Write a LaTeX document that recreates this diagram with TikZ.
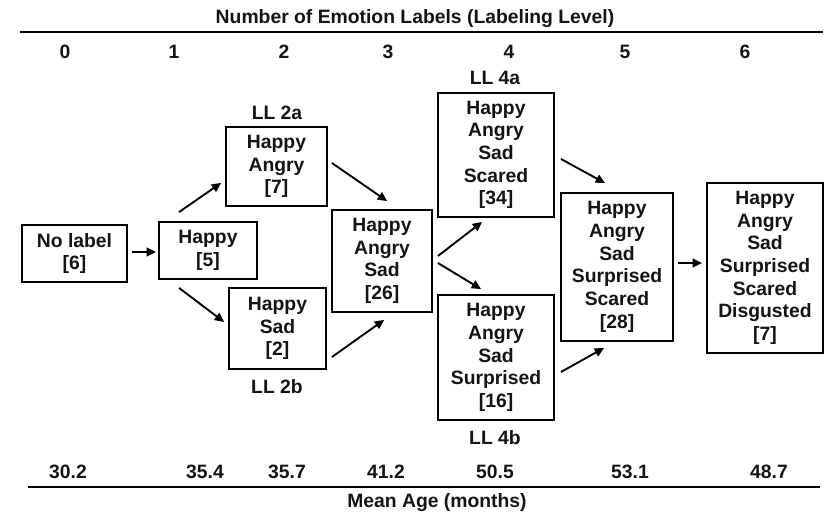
\documentclass[tikz,border=0pt]{standalone}
\usepackage{fontspec}
\setmainfont{Liberation Sans}
\usetikzlibrary{arrows.meta}
\newcommand\mylblfont{\fontsize{14.5pt}{17pt}\selectfont\bfseries}
\begin{document}
\begin{tikzpicture}[x=0.75pt,y=-0.75pt,
  box/.style={draw, line width=1.4pt, inner sep=0pt, align=center, font=\mylblfont, text=black!92},
  lab/.style={font=\mylblfont, inner sep=0pt, text=black!92},
  arr/.style={line width=1.4pt, -{Triangle[length=7pt,width=6.5pt]}},
  rule/.style={line width=1.6pt}]
\useasboundingbox (0,0) rectangle (825,515);
% header
\node[lab] (title) at (415,19) {Number of Emotion Labels (Labeling Level)};
\draw[rule] (20,32) -- (823,32);
\node[lab] (c0) at (65,52) {0};
\node[lab] (c1) at (174,52) {1};
\node[lab] (c2) at (284,52) {2};
\node[lab] (c3) at (388,52) {3};
\node[lab] (c4) at (509,52) {4};
\node[lab] (c5) at (625,52) {5};
\node[lab] (c6) at (745,52) {6};
% boxes
\node[box, minimum width=78.75pt, minimum height=42.75pt] (b0) at (74.5,253.5) {No label\\{}[6]};
\node[box, minimum width=73.5pt, minimum height=42.75pt] (b1) at (208,250.5) {Happy\\{}[5]};
\node[box, minimum width=75.75pt, minimum height=59.25pt] (b2a) at (276.5,166.5) {Happy\\Angry\\{}[7]};
\node[box, minimum width=72.75pt, minimum height=60.75pt] (b2b) at (277.5,328.5) {Happy\\Sad\\{}[2]};
\node[box, minimum width=75pt, minimum height=76.5pt] (b3) at (382,261) {Happy\\Angry\\Sad\\{}[26]};
\node[box, minimum width=87pt, minimum height=93pt] (b4a) at (496,155) {Happy\\Angry\\Sad\\Scared\\{}[34]};
\node[box, minimum width=87pt, minimum height=93.75pt] (b4b) at (496,357.5) {Happy\\Angry\\Sad\\Surprised\\{}[16]};
\node[box, minimum width=84pt, minimum height=111pt] (b5) at (617,267) {Happy\\Angry\\Sad\\Surprised\\Scared\\{}[28]};
\node[box, minimum width=87pt, minimum height=127.5pt] (b6) at (765,268) {Happy\\Angry\\Sad\\Surprised\\Scared\\Disgusted\\{}[7]};
% level labels
\node[lab] (l2a) at (277,113) {LL 2a};
\node[lab] (l2b) at (277,387) {LL 2b};
\node[lab] (l4a) at (495,78) {LL 4a};
\node[lab] (l4b) at (495,438) {LL 4b};
% arrows
\draw[arr] ([shift={(4,-1.5)}]b0.east) -- ([shift={(-2,1.5)}]b1.west);
\draw[arr] ([shift={(21,-9)}]b1.north west) -- ([shift={(-4,-24)}]b2a.south west);
\draw[arr] ([shift={(21,8)}]b1.south west) -- ([shift={(-4,-6.5)}]b2b.west);
\draw[arr] ([shift={(4,-3.5)}]b2a.east) -- ([shift={(56,-8)}]b3.north west);
\draw[arr] ([shift={(5,28.5)}]b2b.east) -- ([shift={(53,7)}]b3.south west);
\draw[arr] ([shift={(5,-5)}]b3.east) -- ([shift={(45,4)}]b4a.south west);
\draw[arr] ([shift={(5,2)}]b3.east) -- ([shift={(44,-5)}]b4b.north west);
\draw[arr] ([shift={(6,4)}]b4a.east) -- ([shift={(45,-9)}]b5.north west);
\draw[arr] ([shift={(6,14.5)}]b4b.east) -- ([shift={(44,6)}]b5.south west);
\draw[arr] ([shift={(4,-4)}]b5.east) -- ([shift={(-4,-5)}]b6.west);
% ages
\node[lab] (m0) at (68,472) {30.2};
\node[lab] (m1) at (205,472) {35.4};
\node[lab] (m2) at (287,472) {35.7};
\node[lab] (m3) at (386,472) {41.2};
\node[lab] (m4) at (495,472) {50.5};
\node[lab] (m5) at (630,472) {53.1};
\node[lab] (m6) at (769,472) {48.7};
\draw[rule] (28,487) -- (820,487);
\node[lab] (age) at (437,503) {Mean Age (months)};
\end{tikzpicture}
\end{document}
